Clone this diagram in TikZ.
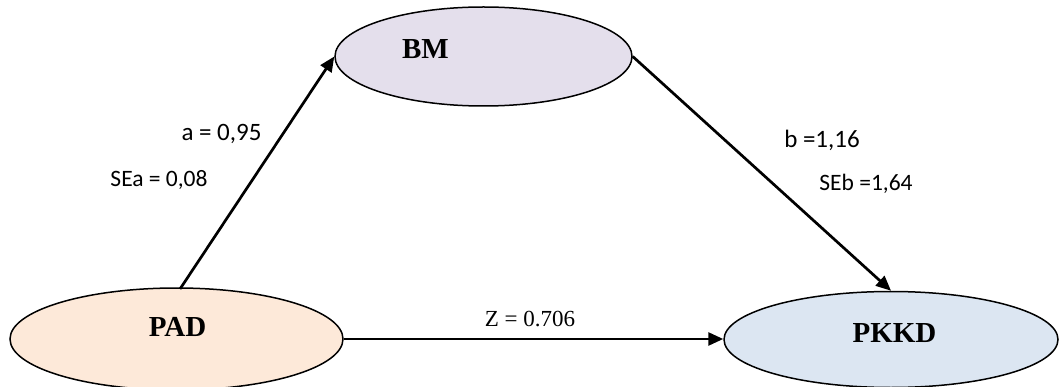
\documentclass[tikz,border=0pt]{standalone}
\usepackage{fontspec}
\setmainfont{Liberation Serif}
\newfontfamily\labelfont{Carlito}
\usetikzlibrary{shapes.geometric,arrows.meta}

\definecolor{bmfill}{HTML}{E4DFEC}
\definecolor{padfill}{HTML}{FDE9D9}
\definecolor{pkkdfill}{HTML}{DCE6F2}

\tikzset{
  varnode/.style={draw=black, line width=1.5pt, ellipse, inner sep=0pt},
  vartext/.style={font=\fontsize{29}{32}\selectfont\bfseries, inner sep=0pt},
  effect/.style={draw=black, line width=2.7pt, -{Triangle[length=15pt,width=13pt]}},
  coef/.style={font=\labelfont\fontsize{25}{28}\selectfont, inner sep=0pt},
  secoef/.style={font=\labelfont\fontsize{23.5}{26}\selectfont, inner sep=0pt},
  zlabel/.style={font=\fontsize{23}{26}\selectfont, inner sep=0pt}
}

\begin{document}
\begin{tikzpicture}[x=1pt,y=-1pt]
  \useasboundingbox[fill=white] (0,0) rectangle (1059,387);

  % latent variables
  \node[varnode, fill=bmfill, minimum width=297pt, minimum height=99pt] (bm) at (483.5,56.5) {};
  \node[varnode, fill=padfill, minimum width=333pt, minimum height=102pt] (pad) at (176.5,339) {};
  \node[varnode, fill=pkkdfill, minimum width=334pt, minimum height=96pt] (pkkd) at (891,339.5) {};

  \node[vartext] (bmt) at (425.5,49) {BM};
  \node[vartext] (padt) at (177.5,327) {PAD};
  \node[vartext] (pkkdt) at (894.5,333) {PKKD};

  % start of the a-path, just right of the top of PAD
  \coordinate (padtop) at (180,289);

  % paths between the variables
  \draw[effect] (padtop) -- (bm.west);
  \draw[effect] (bm.east) -- (pkkd.north);
  \draw[effect] (pad.east) -- (pad.east -| pkkd.west);

  % coefficients
  \node[coef] (a) at (221.5,134) {a = 0,95};
  \node[secoef] (sea) at (159,180) {SEa = 0,08};
  \node[coef] (b) at (822,140) {b =1,16};
  \node[secoef] (seb) at (866,184) {SEb =1,64};
  \node[zlabel] (z) at (530,319.5) {Z = 0.706};
\end{tikzpicture}
\end{document}
